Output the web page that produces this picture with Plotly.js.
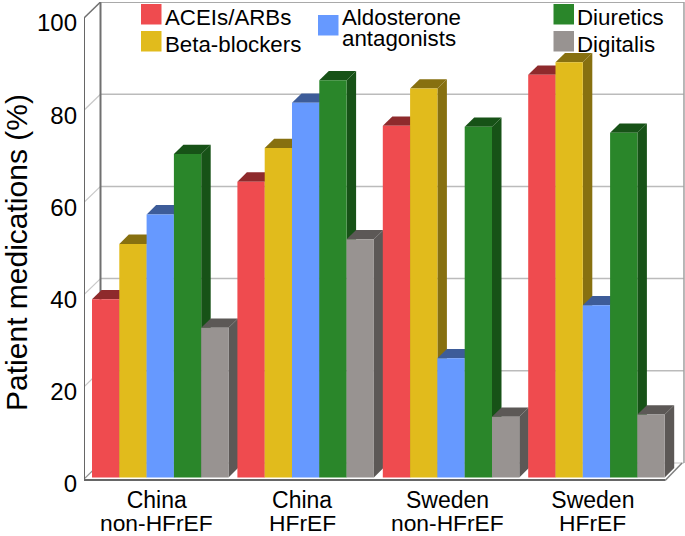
<!DOCTYPE html>
<html><head><meta charset="utf-8">
<script src="https://cdn.plot.ly/plotly-3.0.1.min.js"></script>
<style>html,body{margin:0;padding:0;background:#fff}</style></head>
<body><div id="chart" style="width:685px;height:536px"></div>
<script>
const groupLine1 = ["China", "China", "Sweden", "Sweden"];
const groupLine2 = ["non-HFrEF", "HFrEF", "non-HFrEF", "HFrEF"];
const seriesNames = ["ACEIs/ARBs", "Beta-blockers", "Aldosterone antagonists", "Diuretics", "Digitalis"];
const acei = [39.0, 64.5, 76.6, 87.7];
const beta = [51.0, 71.8, 84.7, 90.4];
const aldo = [57.4, 81.6, 26.2, 37.7];
const diur = [70.5, 86.5, 76.4, 75.1];
const digi = [32.8, 52.0, 13.5, 14.0];
const yTicks = [0, 20, 40, 60, 80, 100];

const series = [acei, beta, aldo, diur, digi];
const front = ["#EF4B4F", "#E1BB1C", "#6699FF", "#2A862A", "#989391"];
const dark  = ["#8E2A2C", "#877010", "#3D5C99", "#175217", "#5C5856"];

// pixel geometry of the plot frame
const L = 84, R = 685, T = 2, B = 503, Y0 = 479;
const pxX = 145.4, pxY = 4.61;            // px per slot, px per percent
const xMin = -0.5, xMax = xMin + (R - L) / pxX;
const yMax = (Y0 - T) / pxY, yMin = -(B - Y0) / pxY;
const wallX = 16.5 / pxX, wallY = 16 / pxY;
const depX = 9.5 / pxX, depY = 9.3 / pxY;
const barW = 27.3 / pxX, barStart = 8 / pxX, base = 0.35;
const xEnd = 3.5;

const traces = [];
function poly(xs, ys, color) {
  traces.push({type: "scatter", mode: "lines", x: [...xs, xs[0]], y: [...ys, ys[0]], fill: "toself",
    fillcolor: color, line: {width: 0, color: color}, hoverinfo: "skip", showlegend: false, cliponaxis: false});
}
function line(xs, ys, color, width) {
  traces.push({type: "scatter", mode: "lines", x: xs, y: ys, line: {color: color, width: width},
    hoverinfo: "skip", showlegend: false, cliponaxis: false});
}

// walls, floor, gridlines
yTicks.forEach(v => {
  if (v > 0 && v < 100) {
    line([xMin + wallX, xMax - 0.007], [v + wallY, v + wallY], "#BBBBBB", 1.5);
    line([xMin, xMin + wallX], [v, v + wallY], "#C8C8C8", 1.2);
  }
});
line([xMin + wallX, xMax - 0.007], [wallY, wallY], "#C4C4C4", 1.2);
line([xMin + wallX, xMin + wallX], [wallY, 100 + wallY], "#707070", 2);
line([xMin + wallX, xMax - 0.007], [100 + wallY, 100 + wallY], "#8C8C8C", 1.6);
line([xMax - 0.007, xMax - 0.007], [wallY, 100 + wallY], "#A0A0A0", 1.5);
line([xMin, xMin + wallX], [100, 100 + wallY], "#707070", 1.5);
line([xMin, xMin + wallX], [0, wallY], "#909090", 1.2);

// bars, painted left to right
groupLine1.forEach((_, g) => {
  series.forEach((vals, s) => {
    const x0 = g + xMin + barStart + s * barW, x1 = x0 + barW, v = vals[g];
    poly([x0, x0 + depX, x1 + depX, x1], [v, v + depY, v + depY, v], dark[s]);
    poly([x1, x1 + depX, x1 + depX, x1], [v, v + depY, base + depY, base], dark[s]);
    poly([x0, x1, x1, x0], [base, base, v, v], front[s]);
  });
});

// front axis lines
line([xMin, xMin], [0, 100], "#666666", 2);
line([xMin, xEnd], [-0.2, -0.2], "#666666", 2);
line([xEnd, xEnd + wallX], [-0.2, wallY], "#808080", 1.5);

function sx(px) { return (px - L) / (R - L); }
function sy(px) { return (B - px) / (B - T); }
const swatch = (x0, y0, c) => ({type: "rect", xref: "paper", yref: "paper",
  x0: sx(x0), x1: sx(x0 + 20.5), y0: sy(y0), y1: sy(y0 + 20.5), fillcolor: c, line: {width: 0}, layer: "above"});
const legendText = (px, py, t) => ({xref: "paper", yref: "paper", x: sx(px), y: sy(py), text: t,
  xanchor: "left", yanchor: "middle", showarrow: false, font: {size: 22.3, color: "#000"}});

const shapes = [
  swatch(141, 4, front[0]), swatch(141, 31, front[1]), swatch(318, 15, front[2]),
  swatch(553.5, 4, front[3]), swatch(553.5, 31, front[4])
];
const annotations = [
  legendText(163, 17, seriesNames[0]),
  legendText(163, 44, seriesNames[1]),
  legendText(340, 17, "Aldosterone"),
  legendText(340, 38, "antagonists"),
  legendText(575, 17, seriesNames[3]),
  legendText(575, 44, seriesNames[4])
];
groupLine2.forEach((t, i) => annotations.push({x: i, xref: "x", y: 0, yref: "y", yshift: -30, text: t, height: 24,
  yanchor: "top", showarrow: false, font: {size: 22.8, color: "#000"}}));

Plotly.newPlot("chart", traces, {
  width: 685, height: 536,
  margin: {l: L, r: 685 - R, t: T, b: 536 - B, pad: 0},
  paper_bgcolor: "#fff", plot_bgcolor: "#fff",
  font: {family: "Liberation Sans, Arial, sans-serif", color: "#000"},
  showlegend: false,
  xaxis: {range: [xMin, xMax], tickmode: "array", tickvals: [0, 1, 2, 3], ticktext: groupLine1,
    showgrid: false, zeroline: false, showline: false, ticks: "", tickfont: {size: 23, color: "#000"},
    ticklabelstandoff: 5,
    anchor: "free", position: (B - Y0) / (B - T), fixedrange: true},
  yaxis: {range: [yMin, yMax], tickmode: "array", tickvals: yTicks, ticktext: yTicks.map(String),
    showgrid: false, zeroline: false, showline: false, ticks: "", tickfont: {size: 24, color: "#000"},
    ticklabelshift: 5, ticklabelstandoff: 6,
    title: {text: "Patient medications (%)", font: {size: 30, color: "#000"}, standoff: 7}, fixedrange: true},
  shapes: shapes, annotations: annotations
}, {displayModeBar: false, staticPlot: true});
</script></body></html>
